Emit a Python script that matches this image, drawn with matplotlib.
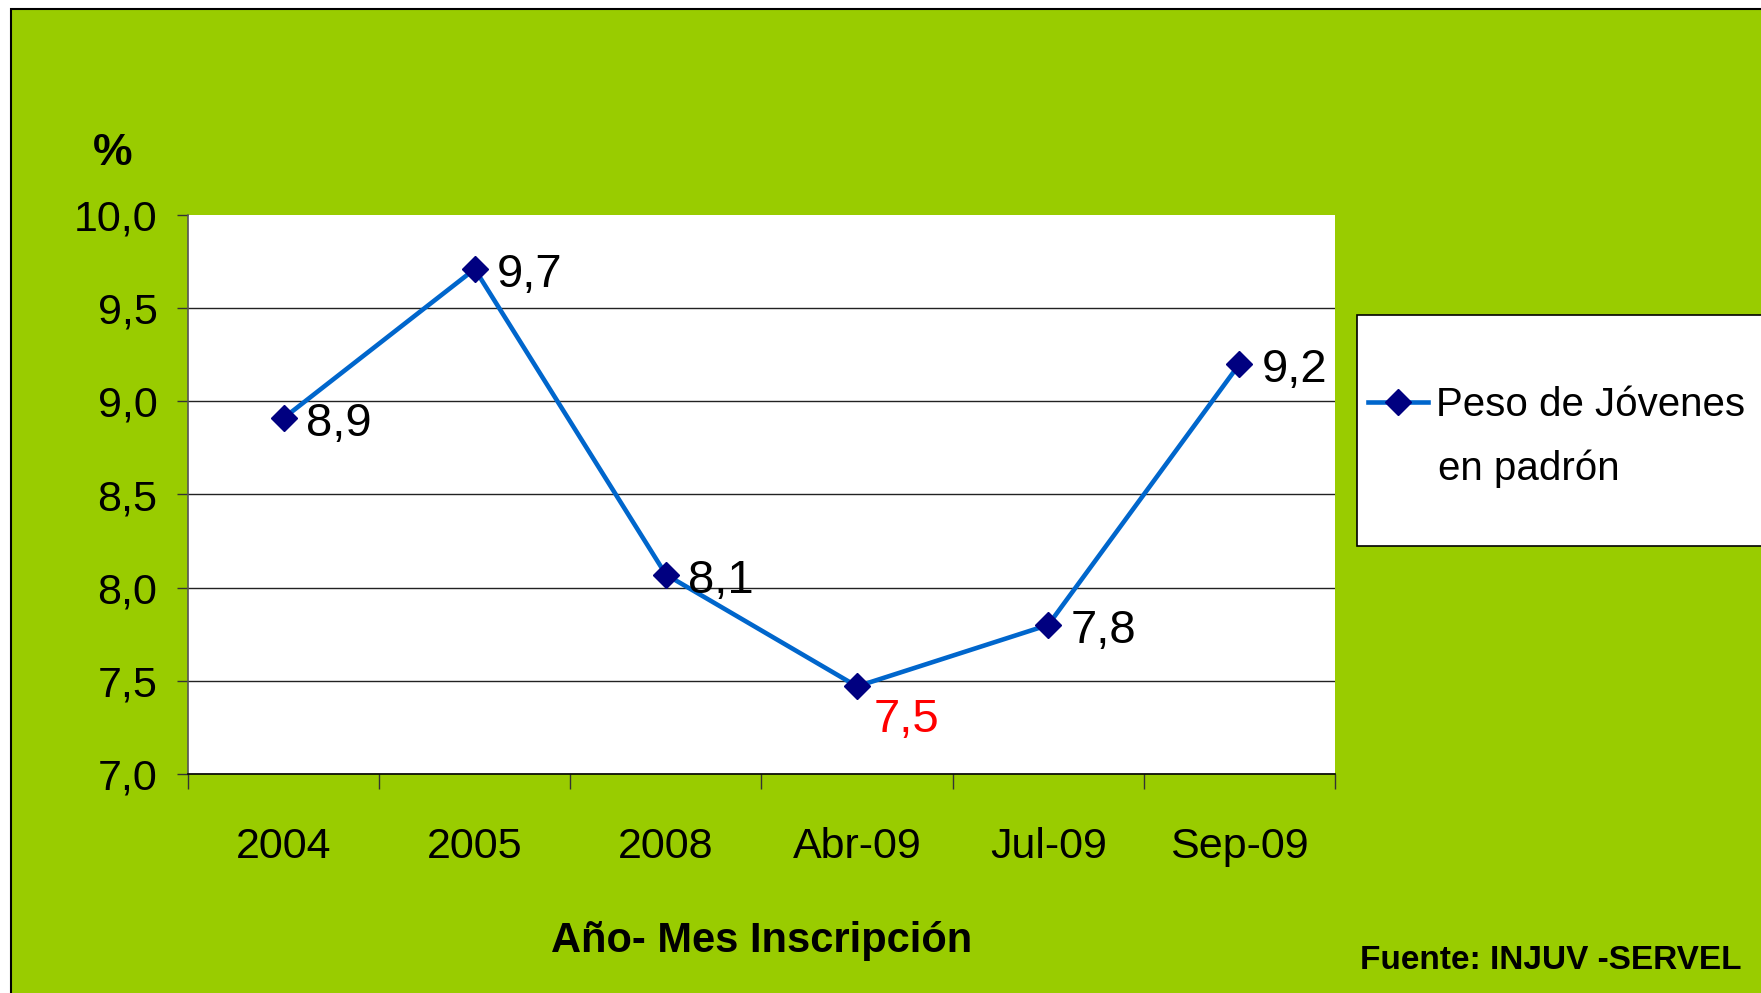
import numpy as np
import matplotlib
matplotlib.use('Agg')
import matplotlib.pyplot as plt
from matplotlib.patches import Rectangle
from matplotlib.ticker import FuncFormatter

plt.rcParams['font.family'] = ['Liberation Sans', 'DejaVu Sans']

# datos
periodos = ['2004', '2005', '2008', 'Abr-09', 'Jul-09', 'Sep-09']
peso_jovenes = [8.91, 9.71, 8.07, 7.47, 7.80, 9.20]
serie = 'Peso de Jóvenes'
serie_2 = 'en padrón'

verde = '#99cc00'
azul = '#0066cc'
marino = '#000080'

W, H = 1761, 993
fig = plt.figure(figsize=(W / 100, H / 100), dpi=100)
fig.patch.set_facecolor('white')

# fondo verde con borde
fig.add_artist(Rectangle((11 / W, -0.02), 1.0, 1 - 9 / H + 0.02, transform=fig.transFigure,
                         facecolor=verde, edgecolor='black', lw=1.5, zorder=-2))
# caja de la leyenda
fig.add_artist(Rectangle((1357 / W, 1 - 546 / H), 1.0, (546 - 315) / H, transform=fig.transFigure,
                         facecolor='white', edgecolor='black', lw=1.2, zorder=-1))

ax = fig.add_axes([188 / W, 1 - 774 / H, 1147 / W, 559 / H])
ax.set_facecolor('white')

x = np.arange(len(periodos))
ax.plot(x, peso_jovenes, color=azul, lw=3.3, marker='D', ms=13, mfc=marino, mec=marino,
        label=serie, zorder=3, clip_on=False)

for i, v in enumerate(peso_jovenes):
    txt = f'{v:.1f}'.replace('.', ',')
    if i == 3:
        ax.annotate(txt, (x[i], v), xytext=(12, -33), textcoords='offset points',
                    fontsize=34, color='red', va='baseline', ha='left')
    else:
        ax.annotate(txt, (x[i], v), xytext=(16, -13), textcoords='offset points',
                    fontsize=34, color='black', va='baseline', ha='left')

ax.set_xlim(-0.5, len(periodos) - 0.5)
ax.set_ylim(7, 10)
ax.set_yticks(np.arange(7, 10.01, 0.5))
ax.yaxis.set_major_formatter(FuncFormatter(lambda v, p: f'{v:.1f}'.replace('.', ',')))

ax.set_xticks(np.arange(len(periodos) + 1) - 0.5)
ax.set_xticklabels([])
ax.set_xticks(x, periodos, minor=True)

ax.tick_params(axis='y', length=8, width=1, pad=14, labelsize=31, color='#333333')
ax.tick_params(axis='x', which='major', length=11, width=1, color='#333333')
ax.tick_params(axis='x', which='minor', length=0, pad=38, labelsize=31)

ax.grid(axis='y', color='#222222', lw=1)
ax.set_axisbelow(True)
ax.yaxis.get_major_ticks()[-1].gridline.set_visible(False)

for s in ['top', 'right']:
    ax.spines[s].set_visible(False)
ax.spines['left'].set_color('#555555')
ax.spines['left'].set_linewidth(1.2)
ax.spines['bottom'].set_color('black')
ax.spines['bottom'].set_linewidth(1.2)

ax.set_xlabel('Año- Mes Inscripción', fontsize=30, fontweight='bold', va='baseline')
ax.xaxis.set_label_coords(0.5, (774 - 952) / 559)
ax.set_ylabel('%', fontsize=32, fontweight='bold', rotation=0, ha='center', va='baseline')
ax.yaxis.set_label_coords((113 - 188) / 1147, (774 - 165) / 559)

fig.legend(loc='center left', bbox_to_anchor=(1368 / W, 1 - 405 / H), frameon=False,
           fontsize=29, handlelength=1.5, handletextpad=0.2, borderpad=0, borderaxespad=0)
fig.text(1438 / W, 1 - 480 / H, serie_2, fontsize=29, ha='left', va='baseline')

fig.text(1741 / W, 1 - 969 / H, 'Fuente: INJUV -SERVEL', fontsize=24, fontweight='bold',
         ha='right', va='baseline')

fig.savefig('out.png', dpi=100)
